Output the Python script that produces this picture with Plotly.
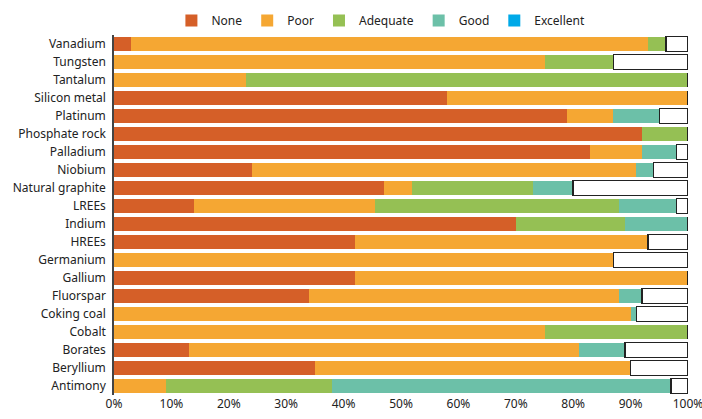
import plotly.graph_objects as go

materials = ["Vanadium", "Tungsten", "Tantalum", "Silicon metal", "Platinum",
             "Phosphate rock", "Palladium", "Niobium", "Natural graphite", "LREEs",
             "Indium", "HREEs", "Germanium", "Gallium", "Fluorspar", "Coking coal",
             "Cobalt", "Borates", "Beryllium", "Antimony"]

none_vals = [3, 0, 0, 58, 79, 92, 83, 24, 47, 14, 70, 42, 0, 42, 34, 0, 0, 13, 35, 0]
poor_vals = [90, 75, 23, 42, 8, 0, 9, 67, 5, 31.5, 0, 51, 87, 58, 54, 90, 75, 68, 55, 9]
adequate_vals = [3.2, 12, 77, 0, 0, 8, 0, 0, 21, 42.5, 19, 0, 0, 0, 0, 0, 25, 0, 0, 29]
good_vals = [0, 0, 0, 0, 8, 0, 6, 3, 7, 10, 11, 0, 0, 0, 4, 1, 0, 8, 0, 59]
excellent_vals = [0] * 20
unknown_vals = [3.8, 13, 0, 0, 5, 0, 2, 6, 20, 2, 0, 7, 13, 0, 8, 9, 0, 11, 10, 3]

series = [
    ("None", none_vals, "#D55F28"),
    ("Poor", poor_vals, "#F5A733"),
    ("Adequate", adequate_vals, "#95C054"),
    ("Good", good_vals, "#6CC0A8"),
    ("Excellent", excellent_vals, "#00A9E8"),
]

fig = go.Figure()
for name, vals, color in series:
    fig.add_trace(go.Bar(
        y=materials, x=vals, name=name, orientation="h",
        marker=dict(color=color, line=dict(width=0)),
    ))

# share with no assessment
fig.add_trace(go.Bar(
    y=materials, x=unknown_vals, name="", orientation="h", showlegend=False,
    marker=dict(color="white", line=dict(color="#222222", width=1.5)),
))

fig.update_layout(
    barmode="stack",
    bargap=0.17,
    width=702, height=419,
    margin=dict(l=114, r=14, t=35, b=24, autoexpand=False),
    plot_bgcolor="white",
    paper_bgcolor="white",
    font=dict(family="Noto Sans", size=12, color="#222222"),
    legend=dict(orientation="h", x=0.465, xanchor="center", y=1.0, yanchor="bottom",
                font=dict(size=12), itemwidth=30, traceorder="normal"),
)
fig.update_xaxes(range=[0, 100], tickvals=list(range(0, 101, 10)),
                 ticktext=[f"{v}%" for v in range(0, 101, 10)],
                 ticklabeloverflow="allow",
                 showgrid=False, zeroline=False, automargin=False, tickfont=dict(size=12))
fig.update_yaxes(autorange="reversed", showline=True, linecolor="#444444",
                 linewidth=1.5, ticks="", ticklabelstandoff=4, automargin=False)

# page body has a default margin; drop it so the figure sits at the window origin
fig.write_html("out.html", config={"displayModeBar": False},
               post_script="document.body.style.margin='0';")
